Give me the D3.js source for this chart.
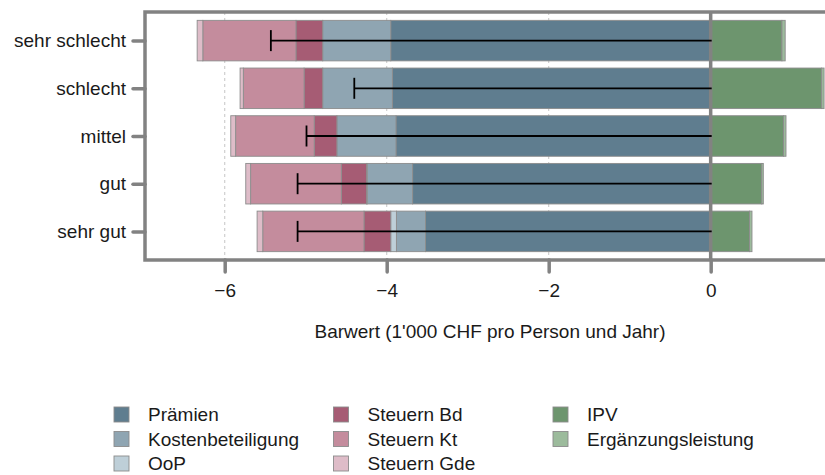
<!DOCTYPE html>
<html>
<head>
<meta charset="utf-8">
<script src="https://cdn.jsdelivr.net/npm/d3@7"></script>
<style>
  body { margin: 0; background: #fff; }
  text { font-family: "Liberation Sans", Arial, sans-serif; fill: #1a1a1a; }
</style>
</head>
<body>
<svg id="chart"></svg>
<script>
const WIDTH = 825;
const HEIGHT = 475;

// values in 1'000 CHF per person and year
const categories = ["sehr schlecht", "schlecht", "mittel", "gut", "sehr gut"];
const praemien = [3.95, 3.93, 3.885, 3.68, 3.52];
const kostenbeteiligung = [0.84, 0.86, 0.73, 0.56, 0.36];
const oop = [0.0, 0.0, 0.0, 0.01, 0.07];
const steuernBd = [0.33, 0.23, 0.28, 0.31, 0.33];
const steuernKt = [1.15, 0.75, 0.97, 1.12, 1.25];
const steuernGde = [0.07, 0.04, 0.06, 0.06, 0.07];
const ipv = [0.88, 1.37, 0.9, 0.63, 0.48];
const ergaenzung = [0.04, 0.03, 0.03, 0.02, 0.03];
const barwert = [-5.43, -4.4, -4.99, -5.1, -5.1];
const xTicks = [-6, -4, -2, 0];

const seriesKeys = [
  "Prämien", "Kostenbeteiligung", "OoP",
  "Steuern Bd", "Steuern Kt", "Steuern Gde",
  "IPV", "Ergänzungsleistung",
];
const seriesValues = [
  praemien.map((d) => -d),
  kostenbeteiligung.map((d) => -d),
  oop.map((d) => -d),
  steuernBd.map((d) => -d),
  steuernKt.map((d) => -d),
  steuernGde.map((d) => -d),
  ipv,
  ergaenzung,
];
const colors = [
  "#5f7d8f", "#8fa5b2", "#becfd8",
  "#a65c74", "#c48c9d", "#debcc8",
  "#6d956e", "#9cbb9c",
];

const table = categories.map((category, i) => {
  const row = { category };
  seriesKeys.forEach((key, k) => (row[key] = seriesValues[k][i]));
  return row;
});

// the plotting panel runs on past the right edge of the picture
const PANEL = { left: 145, right: 835, top: 12, bottom: 260 };
const AXIS_GREY = "#828282";
const FONT_SIZE = 19;

const svg = d3
  .select("#chart")
  .attr("width", WIDTH)
  .attr("height", HEIGHT);

const x = d3.scaleLinear().domain([-7, 1.53]).range([143.7, 834.6]);
const y = d3
  .scalePoint()
  .domain(categories)
  .range([PANEL.top, PANEL.bottom])
  .padding(0.6);
const barHeight = y.step() * 0.85;
const color = d3.scaleOrdinal().domain(seriesKeys).range(colors);

// dashed grid
svg
  .append("g")
  .selectAll("line")
  .data(xTicks.filter((d) => d !== 0))
  .join("line")
  .attr("x1", (d) => x(d))
  .attr("x2", (d) => x(d))
  .attr("y1", PANEL.top)
  .attr("y2", PANEL.bottom)
  .attr("stroke", "#cfcfcf")
  .attr("stroke-width", 1.2)
  .attr("stroke-dasharray", "3,3");

const stacked = d3
  .stack()
  .keys(seriesKeys)
  .offset(d3.stackOffsetDiverging)(table);

svg
  .append("g")
  .selectAll("g")
  .data(stacked)
  .join("g")
  .attr("fill", (s) => color(s.key))
  .selectAll("rect")
  .data((s) => s.filter((d) => d[1] - d[0] > 0))
  .join("rect")
  .attr("x", (d) => x(d[0]))
  .attr("width", (d) => x(d[1]) - x(d[0]))
  .attr("y", (d) => y(d.data.category) - barHeight / 2)
  .attr("height", barHeight)
  .attr("stroke", "#8c8c8c")
  .attr("stroke-width", 0.9);

// zero line
svg
  .append("line")
  .attr("x1", x(0))
  .attr("x2", x(0))
  .attr("y1", PANEL.top)
  .attr("y2", PANEL.bottom)
  .attr("stroke", AXIS_GREY)
  .attr("stroke-width", 3.5);

// net value markers
const errGroup = svg
  .append("g")
  .selectAll("g")
  .data(barwert.map((value, i) => ({ category: categories[i], value })))
  .join("g")
  .attr("stroke", "#000")
  .attr("stroke-width", 1.8);
errGroup
  .append("line")
  .attr("x1", (d) => x(d.value))
  .attr("x2", x(0) + 1)
  .attr("y1", (d) => y(d.category))
  .attr("y2", (d) => y(d.category));
errGroup
  .append("line")
  .attr("x1", (d) => x(d.value))
  .attr("x2", (d) => x(d.value))
  .attr("y1", (d) => y(d.category) - 10.5)
  .attr("y2", (d) => y(d.category) + 10.5);

// panel frame
svg
  .append("rect")
  .attr("x", PANEL.left)
  .attr("y", PANEL.top)
  .attr("width", PANEL.right - PANEL.left)
  .attr("height", PANEL.bottom - PANEL.top)
  .attr("fill", "none")
  .attr("stroke", AXIS_GREY)
  .attr("stroke-width", 3.5);

// y axis
const yAxis = svg
  .append("g")
  .attr("transform", `translate(${PANEL.left},0)`)
  .call(d3.axisLeft(y).tickSize(12).tickPadding(7));
yAxis.select(".domain").remove();
yAxis
  .selectAll(".tick line")
  .attr("stroke", AXIS_GREY)
  .attr("stroke-width", 3.5)
  .attr("stroke-linecap", "round");
yAxis
  .selectAll(".tick text")
  .attr("font-size", FONT_SIZE)
  .attr("fill", "#1a1a1a");

// x axis
const xAxis = svg
  .append("g")
  .attr("transform", `translate(0,${PANEL.bottom})`)
  .call(
    d3
      .axisBottom(x)
      .tickValues(xTicks)
      .tickSize(12)
      .tickPadding(12)
      .tickFormat((d) => (d < 0 ? "\u2212" + Math.abs(d) : d))
  );
xAxis.select(".domain").remove();
xAxis
  .selectAll(".tick line")
  .attr("stroke", AXIS_GREY)
  .attr("stroke-width", 3.5)
  .attr("stroke-linecap", "round");
xAxis
  .selectAll(".tick text")
  .attr("font-size", FONT_SIZE)
  .attr("fill", "#1a1a1a");

svg
  .append("text")
  .attr("x", (PANEL.left + PANEL.right) / 2)
  .attr("y", 338)
  .attr("text-anchor", "middle")
  .attr("font-size", FONT_SIZE)
  .text("Barwert (1'000 CHF pro Person und Jahr)");

// legend, three columns filled top-down
const legend = svg
  .append("g")
  .selectAll("g")
  .data(seriesKeys)
  .join("g")
  .attr(
    "transform",
    (d, i) =>
      `translate(${114 + Math.floor(i / 3) * 219.5},${414.5 + (i % 3) * 24.5})`
  );
legend
  .append("rect")
  .attr("x", 0)
  .attr("y", -7.5)
  .attr("width", 15)
  .attr("height", 15)
  .attr("fill", (d) => color(d))
  .attr("stroke", "#8c8c8c")
  .attr("stroke-width", 0.9);
legend
  .append("text")
  .attr("x", 34)
  .attr("dy", "0.36em")
  .attr("font-size", FONT_SIZE)
  .text((d) => d);
</script>
</body>
</html>
